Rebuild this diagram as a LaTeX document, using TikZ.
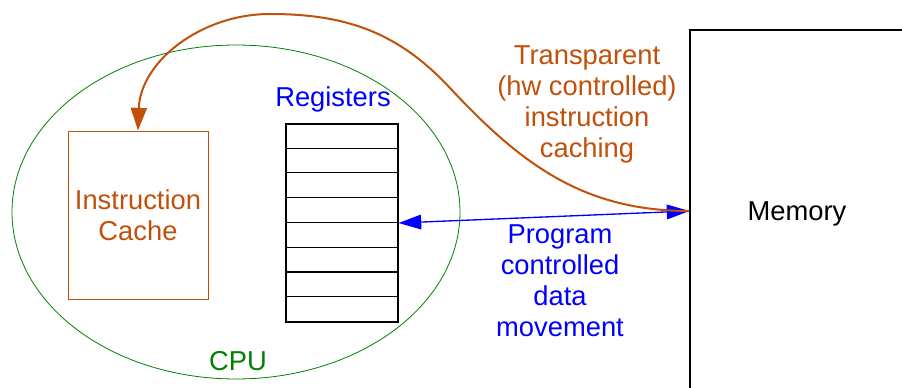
\documentclass[tikz,border=0pt]{standalone}
\usepackage{fontspec}
\setmainfont{Liberation Sans}
\usepackage{tikz}
\usetikzlibrary{arrows.meta}
\definecolor{cachebrown}{RGB}{192,80,10}
\definecolor{cpugreen}{RGB}{0,128,0}

\begin{document}
\begin{tikzpicture}[x=0.75pt,y=-0.75pt,
  every node/.style={font=\fontsize{20.5}{23.25}\selectfont},
  box/.style={draw,inner sep=0pt}]
\clip (0,0) rectangle (902,388);
\draw[cpugreen,line width=.6pt] (236,212) ellipse [x radius=224,y radius=167];
\node[box,draw=cachebrown,text=cachebrown,line width=.7pt,minimum width=105pt,minimum height=126pt,align=center] (cache) at (138,215) {Instruction\\Cache};
\node[box,line width=.8pt,minimum width=84pt,minimum height=148.5pt] (regs) at (342,223) {};
\foreach \i in {1,...,7}
	\draw[line width=.8pt] ([yshift=-\i*18.5625pt]regs.north west) -- ([yshift=-\i*18.5625pt]regs.north east);
\node[text=blue] (reglabel) at (333,99) {Registers};
\node[box,line width=.8pt,text depth=0pt,minimum width=160.5pt,minimum height=271.5pt] (memory) at (797,211) {Memory};
\draw[blue,line width=1pt,{Triangle[length=17pt,width=11pt]}-{Triangle[length=17pt,width=11pt]}] (regs.east) -- (memory.west);
\draw[cachebrown,line width=1.5pt,-{Triangle[length=17pt,width=12pt]}] (memory.west)
	to[out=180,in=-47] (450,88)
	to[out=133,in=0] (270,14)
	to[out=180,in=88] (cache.north);
\node[text=cachebrown,align=center] (hwlabel) at (587,104) {Transparent\\(hw controlled)\\instruction\\caching};
\node[text=blue,align=center] (swlabel) at (560,281) {Program\\controlled\\data\\movement};
\node[text=cpugreen] (cpulabel) at (238,361) {CPU};
\end{tikzpicture}
\end{document}
